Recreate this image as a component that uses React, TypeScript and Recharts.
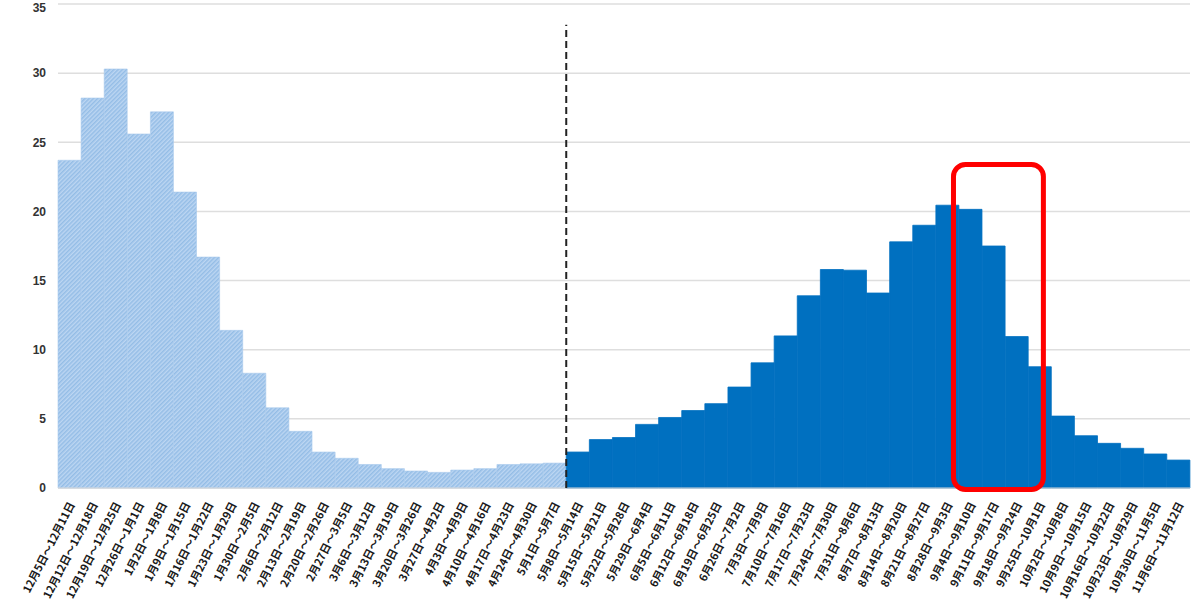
import React from 'react';
import { BarChart, Bar, XAxis, YAxis, CartesianGrid, ReferenceLine, ReferenceArea } from 'recharts';

// 週ラベル（12月5日〜翌年11月12日）
const weeks = [
  '12月5日～12月11日', '12月12日～12月18日', '12月19日～12月25日', '12月26日～1月1日',
  '1月2日～1月8日', '1月9日～1月15日', '1月16日～1月22日', '1月23日～1月29日', '1月30日～2月5日',
  '2月6日～2月12日', '2月13日～2月19日', '2月20日～2月26日', '2月27日～3月5日',
  '3月6日～3月12日', '3月13日～3月19日', '3月20日～3月26日', '3月27日～4月2日',
  '4月3日～4月9日', '4月10日～4月16日', '4月17日～4月23日', '4月24日～4月30日',
  '5月1日～5月7日', '5月8日～5月14日', '5月15日～5月21日', '5月22日～5月28日',
  '5月29日～6月4日', '6月5日～6月11日', '6月12日～6月18日', '6月19日～6月25日',
  '6月26日～7月2日', '7月3日～7月9日', '7月10日～7月16日', '7月17日～7月23日',
  '7月24日～7月30日', '7月31日～8月6日', '8月7日～8月13日', '8月14日～8月20日',
  '8月21日～8月27日', '8月28日～9月3日', '9月4日～9月10日', '9月11日～9月17日',
  '9月18日～9月24日', '9月25日～10月1日', '10月2日～10月8日', '10月9日～10月15日',
  '10月16日～10月22日', '10月23日～10月29日', '10月30日～11月5日', '11月6日～11月12日',
];

// 5月7日まで（定点把握移行前の換算値）
const beforeValues = [
  23.7, 28.2, 30.3, 25.6, 27.2, 21.4, 16.7, 11.4, 8.3, 5.8, 4.1,
  2.6, 2.15, 1.7, 1.4, 1.23, 1.13, 1.3, 1.4, 1.7, 1.75, 1.8,
];

// 5月8日以降（定点当たり報告数）
const afterValues = [
  2.6, 3.5, 3.65, 4.6, 5.1, 5.6, 6.1, 7.3, 9.05, 11.0, 13.9, 15.8, 15.75,
  14.1, 17.8, 19.0, 20.45, 20.15, 17.5, 10.95, 8.77, 5.2, 3.78, 3.23, 2.87, 2.46, 2.02,
];

const yTicks = [0, 5, 10, 15, 20, 25, 30, 35];

const data = weeks.map((week, i) => ({
  week,
  before: i < beforeValues.length ? beforeValues[i] : null,
  after: i >= beforeValues.length ? afterValues[i - beforeValues.length] : null,
}));

const splitWeek = weeks[beforeValues.length];

const WeekTick = (props: any) => {
  const { x, y, payload } = props;
  return (
    <g transform={`translate(${x + 3},${y + 7})`}>
      <text
        textAnchor="end"
        dominantBaseline="middle"
        transform="rotate(-63)"
        fontSize={11}
        fontWeight="bold"
        fill="#1a1a1a"
        fontFamily="'Noto Sans CJK JP', sans-serif"
      >
        {payload.value}
      </text>
    </g>
  );
};

const HighlightBox = (props: any) => {
  const { x, y, width, height } = props;
  return (
    <rect
      x={x - 5.5}
      y={y}
      width={width - 2.5}
      height={height + 1.5}
      rx={12}
      ry={12}
      fill="none"
      stroke="#ff0000"
      strokeWidth={5}
    />
  );
};

const App: React.FC = () => {
  return (
    <div style={{ position: 'absolute', left: 0, top: 0, width: 1200, height: 600, background: '#fff' }}>
      <BarChart
        width={1200}
        height={600}
        data={data}
        margin={{ top: 4, right: 10, left: 0, bottom: 0 }}
        barCategoryGap={0}
        barGap={0}
      >
        <defs>
          <pattern id="hatch" width="3" height="3" patternUnits="userSpaceOnUse" patternTransform="rotate(45)">
            <rect width="3" height="3" fill="#bcd6f2" />
            <rect width="1.5" height="3" fill="#94bde6" />
          </pattern>
        </defs>
        <CartesianGrid vertical={false} stroke="#dedede" strokeWidth={1.5} />
        <XAxis
          dataKey="week"
          interval={0}
          height={112}
          tickLine={false}
          axisLine={{ stroke: '#d9d9d9' }}
          tick={<WeekTick />}
        />
        <YAxis
          width={58}
          domain={[0, 35]}
          ticks={yTicks}
          axisLine={false}
          tickLine={false}
          tickMargin={6}
          tick={{ fontSize: 12, fontWeight: 'bold', fill: '#333', fontFamily: 'Arial, sans-serif' }}
        />
        <Bar dataKey="before" stackId="s" fill="url(#hatch)" stroke="#a8c9ec" strokeWidth={0.6} isAnimationActive={false} />
        <Bar dataKey="after" stackId="s" fill="#0070c0" stroke="#0070c0" strokeWidth={0.8} isAnimationActive={false} />
        <ReferenceLine
          segment={[{ x: splitWeek, y: 0 }, { x: splitWeek, y: 33.5 }]}
          position="start"
          stroke="#222"
          strokeWidth={2}
          strokeDasharray="7 4"
          ifOverflow="visible"
          zIndex={2000}
        />
        <ReferenceArea
          x1="9月4日～9月10日"
          x2="9月25日～10月1日"
          y1={0}
          y2={23.4}
          ifOverflow="visible"
          zIndex={2000}
          shape={<HighlightBox />}
        />
      </BarChart>
    </div>
  );
};

export default App;
